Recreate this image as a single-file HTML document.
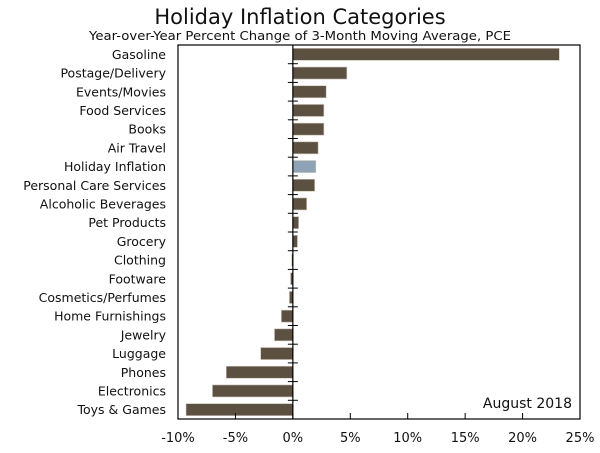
<!DOCTYPE html>
<html><head><meta charset="utf-8"><style>
body{margin:0;background:#fff;}
svg text{font-family:"DejaVu Sans","Liberation Sans",sans-serif;fill:#111;}
</style></head><body>
<svg id="chart" width="600" height="448">
<text x="300" y="24" text-anchor="middle" font-size="21">Holiday Inflation Categories</text>
<text x="300" y="40" text-anchor="middle" font-size="12" textLength="422" lengthAdjust="spacingAndGlyphs">Year-over-Year Percent Change of 3-Month Moving Average, PCE</text>
<g id="plot"></g>
<text x="572" y="408" text-anchor="end" font-size="14">August 2018</text>
</svg>
<script>
const categories=["Gasoline","Postage/Delivery","Events/Movies","Food Services","Books","Air Travel","Holiday Inflation","Personal Care Services","Alcoholic Beverages","Pet Products","Grocery","Clothing","Footware","Cosmetics/Perfumes","Home Furnishings","Jewelry","Luggage","Phones","Electronics","Toys & Games"];
const values=[23.2,4.7,2.9,2.7,2.7,2.2,2.0,1.9,1.2,0.5,0.4,-0.1,-0.2,-0.3,-1.0,-1.6,-2.8,-5.8,-7.0,-9.3];
const xTicks=[-10,-5,0,5,10,15,20,25];
const xTickLabels=["-10%","-5%","0%","5%","10%","15%","20%","25%"];
const L=178,R=580,T=45,B=419,xmin=-10,xmax=25;
const NS="http://www.w3.org/2000/svg";
const g=document.getElementById('plot');
function x(v){return L+(v-xmin)/(xmax-xmin)*(R-L);}
const band=(B-T)/categories.length;
function y(i){return T+band*i;}
function mk(t,a){const e=document.createElementNS(NS,t);for(const k in a)e.setAttribute(k,a[k]);g.appendChild(e);return e;}
const frame=mk('rect',{x:L,y:T,width:R-L,height:B-T,fill:'none',stroke:'#000','stroke-width':1.2});


categories.forEach((c,i)=>{
  const v=values[i];
  const bh=12;
  const r=mk('rect',{x:Math.min(x(0),x(v)),y:y(i)+band/2-bh/2,width:Math.abs(x(v)-x(0)),height:bh,fill:c==="Holiday Inflation"?'#8ea3b6':'#5c5041',stroke:'#c8c2ba','stroke-width':0.6});
  
  
  const t=mk('text',{x:166,y:y(i)+band/2+4.5,'text-anchor':'end','font-size':12.5});
  t.textContent=c;
  
  
  if(i>0){const tk=mk('line',{x1:x(0)-5,x2:x(0)+5,y1:y(i),y2:y(i),stroke:'#000','stroke-width':1});
  
  }
});
const zl=mk('line',{x1:x(0),x2:x(0),y1:T,y2:B,stroke:'#000','stroke-width':1.2});


xTicks.forEach((v,i)=>{
  const l=mk('line',{x1:x(v),x2:x(v),y1:B,y2:B-6,stroke:'#000','stroke-width':1});
  
  
  const t=mk('text',{x:x(v),y:442,'text-anchor':'middle','font-size':13});
  t.textContent=xTickLabels[i];
  
  
});
</script>
</body></html>
